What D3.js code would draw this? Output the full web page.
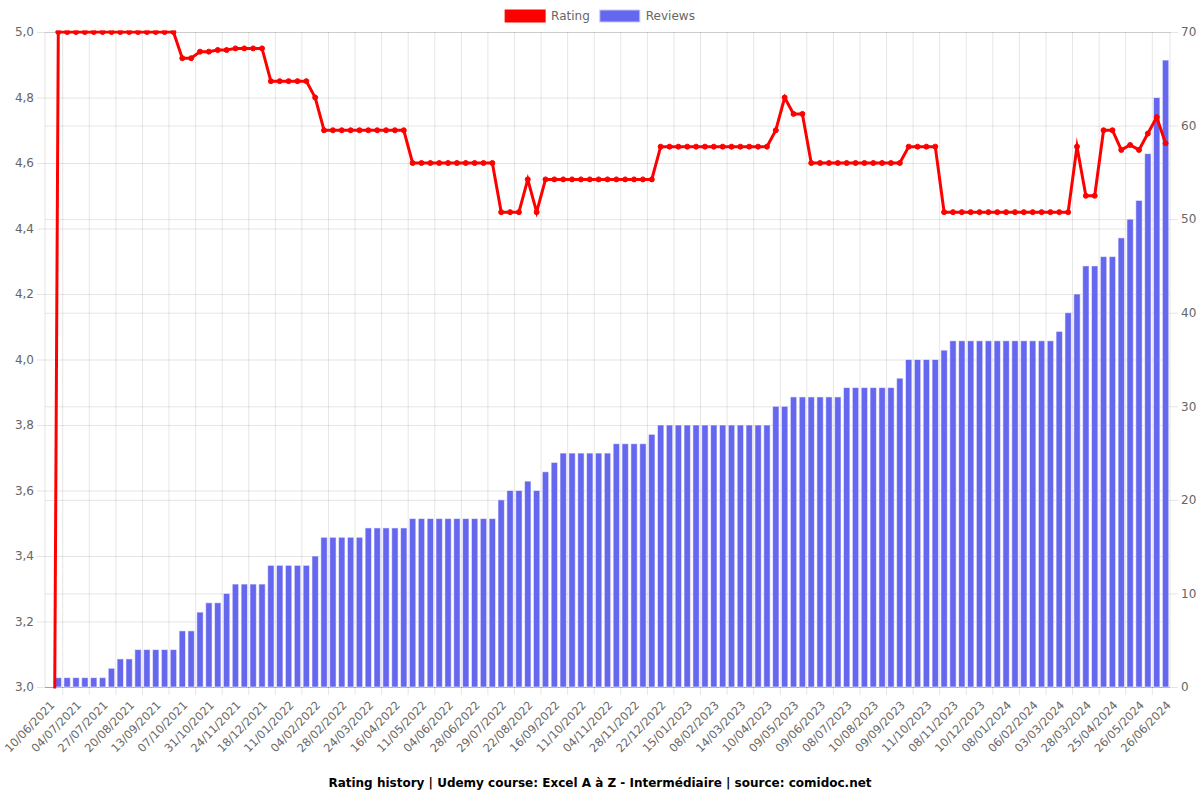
<!DOCTYPE html>
<html><head><meta charset="utf-8">
<script src="https://cdn.jsdelivr.net/npm/d3@7"></script>
<style>
body{margin:0;background:#fff}
svg{display:block}
text{font-family:"DejaVu Sans",sans-serif}
</style>
</head><body>
<svg id="chart" width="1200" height="800"></svg>
<script>
const categories = [
"10/06/2021","18/06/2021","26/06/2021","04/07/2021","12/07/2021","19/07/2021",
"27/07/2021","04/08/2021","12/08/2021","20/08/2021","28/08/2021","05/09/2021",
"13/09/2021","21/09/2021","29/09/2021","07/10/2021","15/10/2021","23/10/2021",
"31/10/2021","08/11/2021","16/11/2021","24/11/2021","02/12/2021","10/12/2021",
"18/12/2021","26/12/2021","03/01/2022","11/01/2022","19/01/2022","27/01/2022",
"04/02/2022","12/02/2022","20/02/2022","28/02/2022","08/03/2022","16/03/2022",
"24/03/2022","01/04/2022","08/04/2022","16/04/2022","24/04/2022","03/05/2022",
"11/05/2022","19/05/2022","27/05/2022","04/06/2022","12/06/2022","20/06/2022",
"28/06/2022","08/07/2022","19/07/2022","29/07/2022","06/08/2022","14/08/2022",
"22/08/2022","30/08/2022","08/09/2022","16/09/2022","24/09/2022","03/10/2022",
"11/10/2022","19/10/2022","27/10/2022","04/11/2022","12/11/2022","20/11/2022",
"28/11/2022","06/12/2022","14/12/2022","22/12/2022","30/12/2022","07/01/2023",
"15/01/2023","23/01/2023","31/01/2023","08/02/2023","19/02/2023","03/03/2023",
"14/03/2023","23/03/2023","01/04/2023","10/04/2023","20/04/2023","29/04/2023",
"09/05/2023","19/05/2023","30/05/2023","09/06/2023","19/06/2023","28/06/2023",
"08/07/2023","19/07/2023","30/07/2023","10/08/2023","20/08/2023","30/08/2023",
"09/09/2023","20/09/2023","30/09/2023","11/10/2023","20/10/2023","29/10/2023",
"08/11/2023","19/11/2023","29/11/2023","10/12/2023","20/12/2023","29/12/2023",
"08/01/2024","18/01/2024","27/01/2024","06/02/2024","14/02/2024","23/02/2024",
"03/03/2024","11/03/2024","19/03/2024","28/03/2024","06/04/2024","15/04/2024",
"25/04/2024","05/05/2024","15/05/2024","26/05/2024","05/06/2024","15/06/2024",
"26/06/2024"];

const tickLabels = [
"10/06/2021","04/07/2021","27/07/2021","20/08/2021","13/09/2021","07/10/2021",
"31/10/2021","24/11/2021","18/12/2021","11/01/2022","04/02/2022","28/02/2022",
"24/03/2022","16/04/2022","11/05/2022","04/06/2022","28/06/2022","29/07/2022",
"22/08/2022","16/09/2022","11/10/2022","04/11/2022","28/11/2022","22/12/2022",
"15/01/2023","08/02/2023","14/03/2023","10/04/2023","09/05/2023","09/06/2023",
"08/07/2023","10/08/2023","09/09/2023","11/10/2023","08/11/2023","10/12/2023",
"08/01/2024","06/02/2024","03/03/2024","28/03/2024","25/04/2024","26/05/2024",
"26/06/2024"];

const rating = [0,
5,5,5,5,5,5,5,5,5,5,5,5,5,5,
4.92,4.92,4.94,4.94,4.945,4.945,4.95,4.95,4.95,4.95,
4.85,4.85,4.85,4.85,4.85,4.8,
4.7,4.7,4.7,4.7,4.7,4.7,4.7,4.7,4.7,4.7,
4.6,4.6,4.6,4.6,4.6,4.6,4.6,4.6,4.6,4.6,
4.45,4.45,4.45,4.55,4.45,
4.55,4.55,4.55,4.55,4.55,4.55,4.55,4.55,4.55,4.55,4.55,4.55,4.55,
4.65,4.65,4.65,4.65,4.65,4.65,4.65,4.65,4.65,4.65,4.65,4.65,4.65,
4.7,4.8,4.75,4.75,
4.6,4.6,4.6,4.6,4.6,4.6,4.6,4.6,4.6,4.6,4.6,
4.65,4.65,4.65,4.65,
4.45,4.45,4.45,4.45,4.45,4.45,4.45,4.45,4.45,4.45,4.45,4.45,4.45,4.45,4.45,
4.65,4.5,4.5,4.7,4.7,4.64,4.655,4.64,4.69,4.74,4.66];

const reviews = [0,
1,1,1,1,1,1,2,3,3,4,4,4,4,4,
6,6,8,9,9,10,11,11,11,11,
13,13,13,13,13,14,
16,16,16,16,16,17,17,17,17,17,
18,18,18,18,18,18,18,18,18,18,
20,21,21,22,21,23,24,
25,25,25,25,25,25,26,26,26,26,27,
28,28,28,28,28,28,28,28,28,28,28,28,28,
30,30,31,31,31,31,31,31,
32,32,32,32,32,32,33,
35,35,35,35,36,
37,37,37,37,37,37,37,37,37,37,37,37,
38,40,42,45,45,46,46,48,50,52,57,63,67];

const ratingTicks = [3.0,3.2,3.4,3.6,3.8,4.0,4.2,4.4,4.6,4.8,5.0];
const reviewTicks = [0,10,20,30,40,50,60,70];

const seriesNames = ["Rating","Reviews"];
const titleText = "Rating history | Udemy course: Excel A à Z - Intermédiaire | source: comidoc.net";

const W = 1200, H = 800;
const M = {left:45, right:1170, top:32, bottom:687};
const gridColor = "rgba(0,0,0,0.1)";
const labelColor = "#666";
const red = "#ff0000";
const blue = "rgb(102,103,239)";

const svg = d3.select("#chart");
const locale = d3.formatLocale({decimal:",", thousands:".", grouping:[3], currency:["","€"]});
const fmt1 = locale.format(".1f");

const x = d3.scaleBand().domain(categories).range([M.left, M.right]).padding(0);
const yL = d3.scaleLinear().domain([3,5]).range([M.bottom, M.top]);
const yR = d3.scaleLinear().domain([0,70]).range([M.bottom, M.top]);
const step = x.step();
const cx = d => x(d) + step/2;

// vertical gridlines (offset between categories)
const gridG = svg.append("g");
tickLabels.forEach(t => {
  const i = categories.indexOf(t);
  if (i < 1) return;
  const gx = x(categories[i-1]);
  gridG.append("line").attr("x1",gx).attr("x2",gx).attr("y1",M.top).attr("y2",M.bottom+8)
    .attr("stroke",gridColor).attr("stroke-width",1);
});

// left axis with gridlines
const axL = svg.append("g").attr("transform",`translate(${M.left},0)`)
  .call(d3.axisLeft(yL).tickValues(ratingTicks).tickSize(8).tickPadding(3).tickFormat(fmt1));
axL.select(".domain").remove();
axL.selectAll(".tick line").attr("x1", M.right-M.left).attr("stroke",gridColor);
axL.selectAll(".tick text").attr("fill",labelColor).style("font-size","12px");

// right axis with gridlines
const axR = svg.append("g").attr("transform",`translate(${M.right},0)`)
  .call(d3.axisRight(yR).tickValues(reviewTicks).tickSize(8).tickPadding(3));
axR.select(".domain").remove();
axR.selectAll(".tick line").attr("x1", -(M.right-M.left)).attr("stroke",gridColor);
axR.selectAll(".tick text").attr("fill",labelColor).style("font-size","12px");

// borders
svg.append("line").attr("x1",M.left).attr("x2",M.left).attr("y1",M.top).attr("y2",M.bottom)
  .attr("stroke",gridColor);
svg.append("line").attr("x1",M.right).attr("x2",M.right).attr("y1",M.top).attr("y2",M.bottom)
  .attr("stroke",gridColor);
svg.append("line").attr("x1",M.left).attr("x2",M.right).attr("y1",M.bottom+0.5).attr("y2",M.bottom+0.5)
  .attr("stroke","rgba(0,0,0,0.2)");

// x axis labels
const axX = svg.append("g").attr("transform",`translate(0,${M.bottom})`)
  .call(d3.axisBottom(x).tickValues(tickLabels).tickSize(0));
axX.select(".domain").remove();
axX.selectAll(".tick text")
  .attr("fill",labelColor).style("font-size","11.4px")
  .attr("text-anchor","end").attr("x",0).attr("y",0).attr("dy","0.35em")
  .attr("transform","translate(3,16) rotate(-46)");

// bars
const barW = step*0.8*0.9;
svg.append("g").selectAll("rect").data(categories).join("rect")
  .attr("x", (d)=> cx(d)-barW/2)
  .attr("width", barW)
  .attr("y", (d,i)=> yR(reviews[i]))
  .attr("height", (d,i)=> M.bottom - yR(reviews[i]))
  .attr("fill", blue)
  .attr("stroke","rgba(255,255,255,0.55)").attr("stroke-width",1);

// clip for line
svg.append("clipPath").attr("id","clipArea").append("rect")
  .attr("x",M.left-1.5).attr("y",M.top-1.5)
  .attr("width",M.right-M.left+3).attr("height",M.bottom-M.top+3);

const lineG = svg.append("g").attr("clip-path","url(#clipArea)");
const line = d3.line().x((d,i)=>cx(categories[i])).y(d=>yL(d));
lineG.append("path").datum(rating).attr("d",line)
  .attr("fill","none").attr("stroke",red).attr("stroke-width",3)
  .attr("stroke-linejoin","miter").attr("stroke-miterlimit",10);
lineG.selectAll("circle").data(rating).join("circle")
  .attr("cx",(d,i)=>cx(categories[i])).attr("cy",d=>yL(d))
  .attr("r",2.5).attr("fill",red).attr("stroke",red).attr("stroke-width",1);

// legend
const leg = svg.append("g");
const items = [{name:seriesNames[0], fill:red, stroke:red},{name:seriesNames[1], fill:blue, stroke:"rgba(200,200,250,1)"}];
let widths = items.map(it => {
  const t = leg.append("text").style("font-size","12px").text(it.name);
  const w = t.node().getComputedTextLength(); t.remove(); return w;
});
const total = d3.sum(widths.map(w=>40+6+w)) + 10*(items.length-1);
let lx = W/2 - total/2;
items.forEach((it,k)=>{
  leg.append("rect").attr("x",lx).attr("y",10).attr("width",40).attr("height",12)
    .attr("fill",it.fill).attr("stroke",it.stroke).attr("stroke-width",1);
  leg.append("text").attr("x",lx+46).attr("y",16).attr("dy","0.35em")
    .attr("fill",labelColor).style("font-size","12px").text(it.name);
  lx += 40+6+widths[k]+10;
});

// title at bottom
svg.append("text").attr("x",W/2).attr("y",783).attr("dy","0.35em")
  .attr("text-anchor","middle").style("font-size","12px").style("font-weight","bold")
  .attr("fill","#000").text(titleText);
</script>
</body></html>
